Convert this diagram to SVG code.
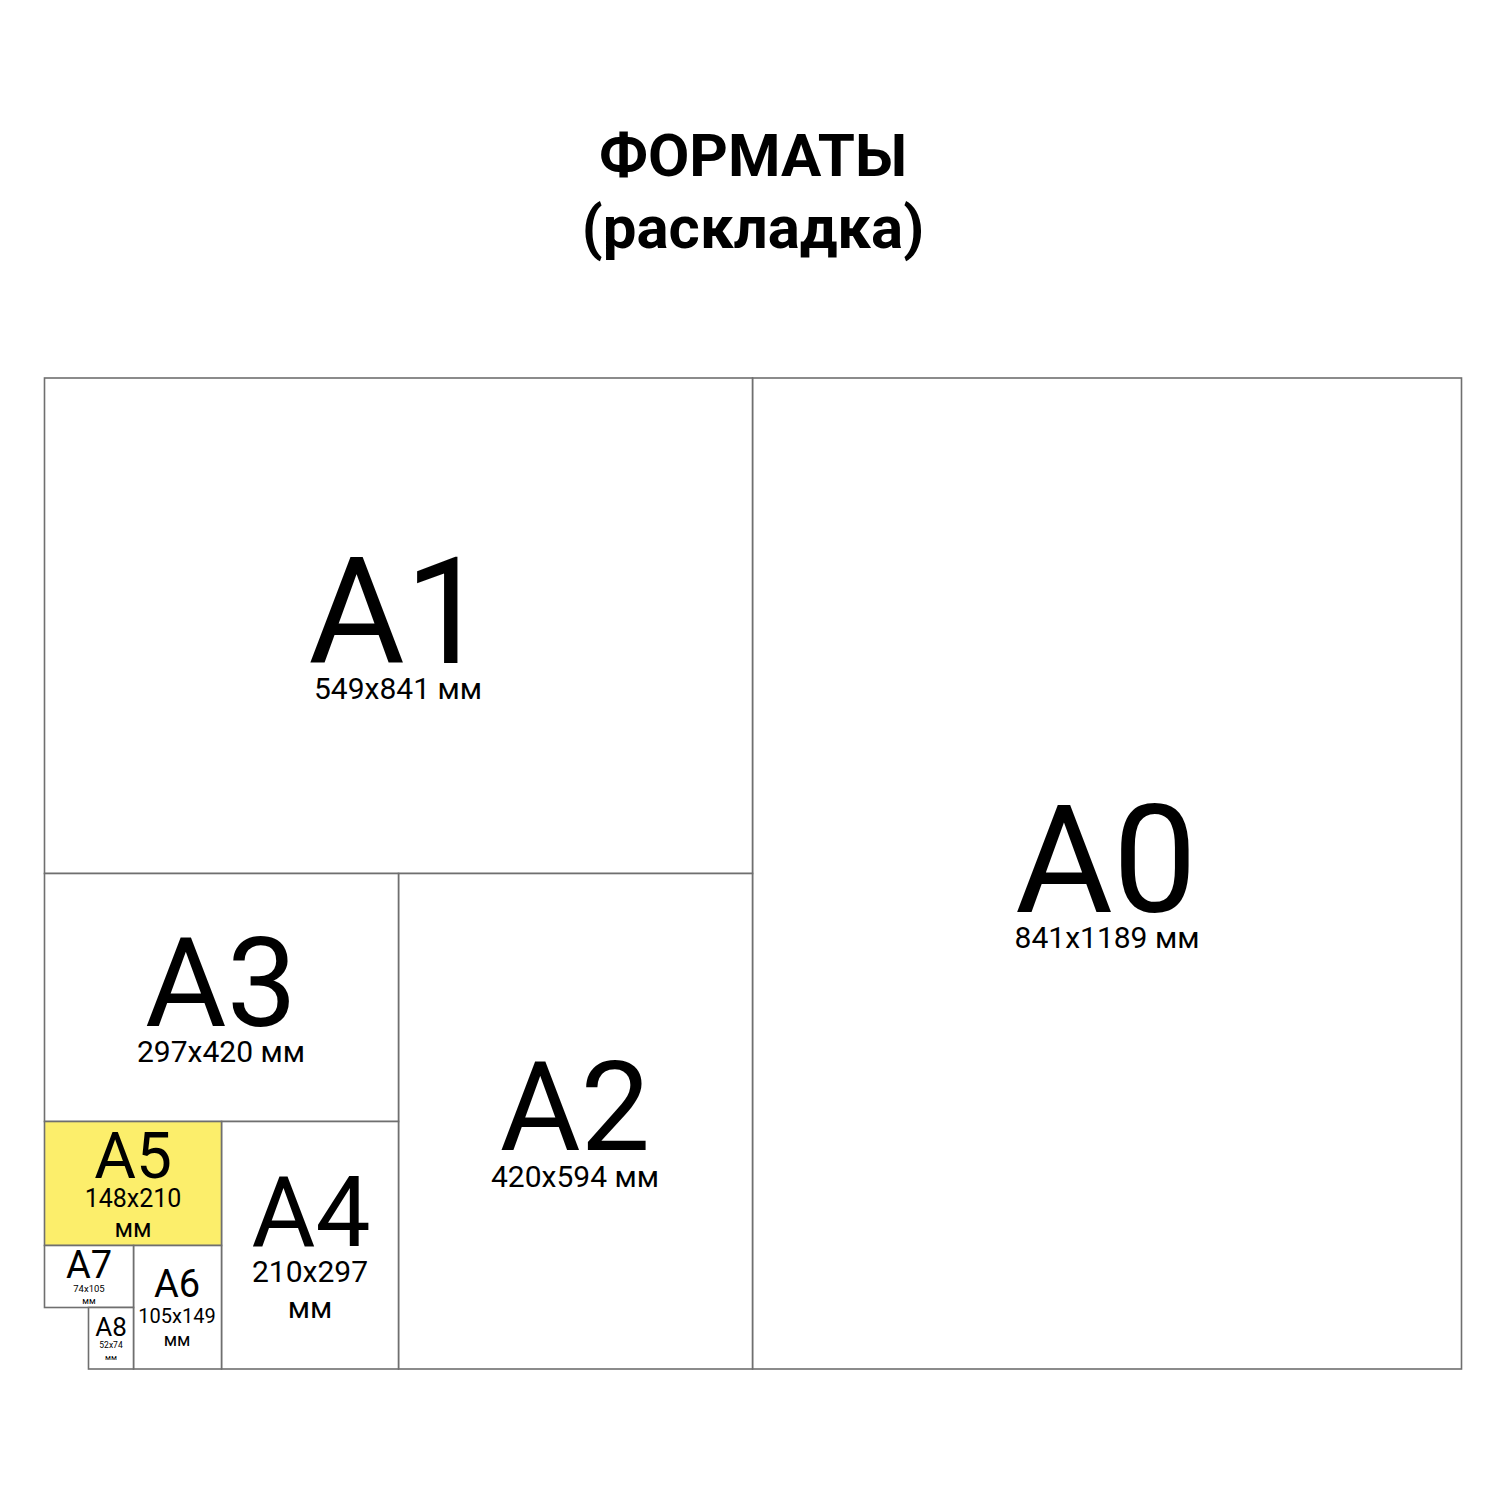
<svg xmlns="http://www.w3.org/2000/svg" width="1500" height="1500" viewBox="0 0 1500 1500">
<style>
.box{fill:#ffffff;stroke:#6f6f6f;stroke-width:1.6}
.y{fill:#fcee6b}
text{font-family:Roboto,"Liberation Sans",sans-serif;fill:#000;text-anchor:middle}
.t{font-weight:700;font-size:60px}
.s{font-size:30px}
</style>
<rect width="1500" height="1500" fill="#fff"/>
<g id="title">
<text class="t" x="753" y="176">ФОРМАТЫ</text>
<text class="t" x="753" y="248">(раскладка)</text>
</g>
<g id="A0">
<rect class="box" x="752.5" y="378" width="709" height="991"/>
<text x="1106" y="912" font-size="150">A0</text>
<text class="s" x="1107" y="948">841x1189 мм</text>
</g>
<g id="A1">
<rect class="box" x="44.5" y="378" width="708" height="495.5"/>
<text x="398" y="663" font-size="148">A1</text>
<text class="s" x="398" y="699">549x841 мм</text>
</g>
<g id="A2">
<rect class="box" x="398.5" y="873.5" width="354" height="495.5"/>
<text x="575" y="1150" font-size="124">A2</text>
<text class="s" x="575" y="1187">420x594 мм</text>
</g>
<g id="A3">
<rect class="box" x="44.5" y="873.5" width="354" height="248"/>
<text x="221" y="1026" font-size="125">A3</text>
<text class="s" x="221" y="1062">297x420 мм</text>
</g>
<g id="A4">
<rect class="box" x="221.5" y="1121.5" width="177" height="247.5"/>
<text x="311" y="1246" font-size="98">A4</text>
<text class="s" x="310" y="1282">210x297</text>
<text class="s" x="310" y="1318">мм</text>
</g>
<g id="A5">
<rect class="box y" x="44.5" y="1121.5" width="177" height="124"/>
<text x="133" y="1178" font-size="64">A5</text>
<text x="133" y="1207" font-size="25">148x210</text>
<text x="133" y="1237" font-size="25">мм</text>
</g>
<g id="A6">
<rect class="box" x="133.5" y="1245.5" width="88" height="123.5"/>
<text x="177" y="1297" font-size="38">A6</text>
<text x="177" y="1323" font-size="20">105x149</text>
<text x="177" y="1346" font-size="18">мм</text>
</g>
<g id="A7">
<rect class="box" x="44.5" y="1245.5" width="89" height="62"/>
<text x="89" y="1278" font-size="38">A7</text>
<text x="89" y="1292" font-size="9.5">74x105</text>
<text x="89" y="1304" font-size="9">мм</text>
</g>
<g id="A8">
<rect class="box" x="88.5" y="1307.5" width="45" height="61.5"/>
<text x="111" y="1336" font-size="26">A8</text>
<text x="111" y="1348" font-size="8.5">52x74</text>
<text x="111" y="1360" font-size="8">мм</text>
</g>
</svg>
